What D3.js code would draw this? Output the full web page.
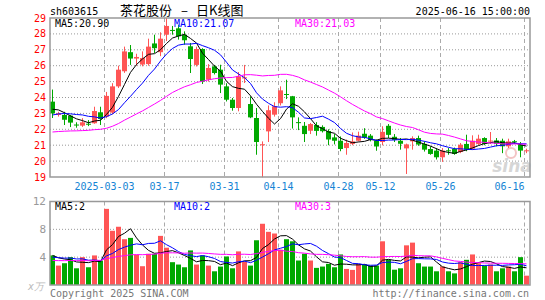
<!DOCTYPE html>
<html>
<head>
<meta charset="utf-8">
<script src="https://cdn.jsdelivr.net/npm/d3@7"></script>
<style>
body { margin: 0; background: #fff; }
svg text { font-family: 'DejaVu Sans Mono', monospace; font-size: 10px; }
</style>
</head>
<body>
<div id="chart"></div>
<script>
// trading days shown (2025)
const days = ['02-18','02-19','02-20','02-21','02-24','02-25','02-26','02-27','02-28',
  '03-03','03-04','03-05','03-06','03-07','03-10','03-11','03-12','03-13','03-14',
  '03-17','03-18','03-19','03-20','03-21','03-24','03-25','03-26','03-27','03-28','03-31',
  '04-01','04-02','04-03','04-07','04-08','04-09','04-10','04-11','04-14','04-15','04-16',
  '04-17','04-18','04-21','04-22','04-23','04-24','04-25','04-28','04-29','04-30',
  '05-06','05-07','05-08','05-09','05-12','05-13','05-14','05-15','05-16','05-19','05-20',
  '05-21','05-22','05-23','05-26','05-27','05-28','05-29','05-30',
  '06-03','06-04','06-05','06-06','06-09','06-10','06-11','06-12','06-13','06-16'];

const open = [23.74,22.9,22.9,22.86,22.3,22.23,22.35,22.38,23.07,22.8,
  23.05,24.7,25.65,26.85,26.45,26.07,26.1,27.4,26.85,27.95,
  28.25,28.35,27.95,27.22,26.05,27.05,25.12,25.96,25.75,24.7,
  23.86,23.34,25.2,23.59,22.71,21.0,21.87,22.92,23.64,24.22,
  24.08,22.45,22.22,21.91,22.27,22.15,21.89,21.49,21.28,20.82,
  21.08,21.28,21.72,21.6,21.28,21.2,22.22,21.53,21.28,20.8,
  21.24,21.45,21.08,20.76,20.66,20.24,20.68,20.76,20.57,21.08,
  20.78,21.08,21.45,21.26,21.3,21.28,20.93,21.25,21.03,20.62];
const high = [24.5,23.1,23.1,22.9,22.44,22.7,22.58,23.42,23.42,24.35,
  24.9,26.0,27.2,27.3,26.75,26.9,27.7,27.95,28.1,29.0,
  28.5,28.58,28.16,27.43,27.2,27.1,26.1,26.05,26.06,24.9,
  23.97,25.6,26.05,24.07,23.34,21.24,23.5,23.7,24.7,25.12,
  24.1,22.75,22.46,22.4,22.45,22.25,22.0,21.7,21.55,21.35,
  21.8,21.85,22.07,21.7,21.36,22.19,22.33,21.7,21.45,21.1,
  21.56,21.6,21.24,20.93,20.82,20.82,20.82,20.85,21.14,21.66,
  21.62,21.66,21.5,21.83,21.45,21.41,21.41,21.33,21.2,20.78];
const low = [22.71,22.8,22.27,22.14,22.1,22.15,22.2,22.35,22.27,22.7,
  22.95,24.6,25.55,26.05,26.0,25.96,26.0,26.8,26.6,27.55,
  27.95,27.64,27.32,25.54,25.95,24.85,25.0,25.45,24.28,23.75,
  23.17,23.13,24.91,22.7,20.4,18.98,21.2,22.8,23.5,23.9,
  22.05,21.95,21.2,21.7,21.6,21.8,21.0,21.05,20.62,20.4,
  21.0,21.24,21.4,21.24,20.65,20.99,21.45,21.2,20.72,19.19,
  20.72,20.96,20.6,20.4,20.1,19.95,20.4,20.4,20.5,20.62,
  20.72,21.0,21.0,21.08,20.93,20.5,20.82,21.07,20.24,20.5];
const close = [23.0,23.0,22.6,22.42,22.27,22.44,22.33,23.15,22.65,24.1,
  24.7,25.75,26.9,26.45,26.55,26.48,27.2,27.1,27.7,28.5,
  28.2,27.85,27.6,26.42,27.05,25.0,25.86,25.54,24.81,23.86,
  23.34,25.33,25.27,22.75,21.2,21.06,23.2,23.45,24.45,24.18,
  22.75,22.4,21.7,22.33,21.9,21.88,21.36,21.28,20.76,21.14,
  21.24,21.6,21.47,21.33,20.92,21.84,21.65,21.33,21.09,21.05,
  21.45,21.04,20.72,20.45,20.24,20.66,20.65,20.45,21.03,20.72,
  21.28,21.41,21.08,21.29,21.08,20.93,21.24,21.22,20.66,20.68];
// volume, 万手
const volume = [4.25,2.79,3.13,4.0,2.4,4.0,2.55,4.25,3.52,10.94,
  7.79,8.37,6.58,6.77,4.34,2.7,4.49,4.49,7.06,5.36,
  3.28,2.94,2.55,4.97,2.94,4.25,2.79,1.97,2.65,4.1,
  2.4,4.83,3.37,2.79,6.43,8.8,7.64,7.4,5.07,6.58,
  6.28,3.52,4.49,3.52,2.46,2.65,3.04,2.55,4.39,2.31,
  2.17,3.04,2.94,2.79,2.79,6.28,3.62,2.2,2.4,5.7,
  6.09,3.13,2.65,2.65,1.97,2.65,1.97,1.67,3.28,3.62,
  4.39,3.13,2.79,2.94,1.97,2.4,2.65,1.97,4.0,1.34];

// closes / volumes before the window, only used to start the moving averages
const histClose = [22.1,22.0,21.9,22.1,22.0,21.8,21.9,22.0,22.1,
  20.9,20.6,20.5,20.7,20.6,20.8,20.7,20.6,20.9,20.8,20.9,
  22.3,22.4,22.6,22.7,22.7,23.2,23.5,23.4,23.2];
const histVol = [3.2,3.4,3.1,3.3,3.5,3.2,3.0,3.4,3.3,3.2,3.5,3.3,3.1,3.4,3.2,3.3,3.4,3.2,3.3,3.3,
  3.5,3.8,3.9,3.7,3.85,4.5,4.0,4.5,4.0];

const tickDays = ['03-03','03-17','03-31','04-14','04-28','05-12','05-26','06-16'];
const tickLabels = ['2025-03-03','03-17','03-31','04-14','04-28','05-12','05-26','06-16'];
const priceTicks = [19,20,21,22,23,24,25,26,27,28,29];
const volTicks = [4,8,12];
const priceLegend = ['MA5:20.90','MA10:21.07','MA30:21.03'];
const volLegend = ['MA5:2','MA10:2','MA30:3'];
const titleParts = ['茶花股份', '–', '日K线图'];

const width = 545, height = 300;
const frame = { left: 50, right: 530, top: 18, bottom: 177 };
const vframe = { top: 201.5, bottom: 285 };
const RED = '#ff5555', GREEN = '#00a800';
const maColors = ['#000', '#0000ff', '#ff00ff'];

const svg = d3.select('#chart').
append('svg').
attr('width', width).
attr('height', height);

const x = d3.scaleBand().
domain(d3.range(days.length)).
range([frame.left, frame.right]);
const y = d3.scaleLinear().domain([19, 29]).range([frame.bottom, frame.top]);
const yv = d3.scaleLinear().domain([0, 12]).range([vframe.bottom, vframe.top]);

const movingAvg = (series, hist, n) => {
  const all = hist.concat(series);
  return series.map((d, i) => d3.mean(all.slice(hist.length + i - n + 1, hist.length + i + 1)));
};

const up = i => close[i] >= open[i];
const cx = i => x(i) + 2.5;

// horizontal dotted grid
svg.selectAll('.pgrid').
data(priceTicks.slice(1, -1)).
enter().
append('line').
attr('x1', frame.left).attr('x2', frame.right).
attr('y1', d => y(d)).attr('y2', d => y(d)).
attr('stroke', '#999').
attr('stroke-dasharray', '1,2');

svg.selectAll('.vgrid').
data(volTicks.slice(0, -1)).
enter().
append('line').
attr('x1', frame.left).attr('x2', frame.right).
attr('y1', d => yv(d)).attr('y2', d => yv(d)).
attr('stroke', '#999').
attr('stroke-dasharray', '1,2');

// vertical dashed lines at date ticks
const tickIdx = tickDays.map(d => days.indexOf(d));
[[frame.top, frame.bottom], [vframe.top, vframe.bottom]].forEach(([t, b]) => {
  svg.selectAll(null).
  data(tickIdx).
  enter().
  append('line').
  attr('x1', d => x(d) + 0.5).attr('x2', d => x(d) + 0.5).
  attr('y1', t).attr('y2', b).
  attr('stroke', '#aaa').
  attr('stroke-dasharray', '4,3');
});

// sina watermark
svg.append('circle').
attr('cx', 511).attr('cy', 153).attr('r', 5).
attr('fill', 'none').attr('stroke', '#f3c4c4').attr('stroke-width', 2);
svg.append('text').
attr('x', 512).attr('y', 172).
attr('text-anchor', 'middle').
style('font-family', 'DejaVu Sans').
style('font-size', '17px').
style('font-style', 'italic').
style('font-weight', 'bold').
attr('fill', '#d6d6d6').
text('sina');

// candles
const candle = svg.selectAll('.candle').
data(d3.range(days.length)).
enter().
append('g');

candle.append('line').
attr('x1', cx).attr('x2', cx).
attr('y1', i => y(high[i])).attr('y2', i => y(low[i])).
attr('stroke', i => up(i) ? RED : GREEN);

candle.append('rect').
attr('x', i => x(i)).
attr('width', 5).
attr('y', i => y(Math.max(open[i], close[i]))).
attr('height', i => Math.max(1, Math.abs(y(open[i]) - y(close[i])))).
attr('fill', i => up(i) ? RED : GREEN);

// volume bars
svg.selectAll('.vol').
data(d3.range(days.length)).
enter().
append('rect').
attr('x', i => x(i)).
attr('width', 5).
attr('y', i => yv(volume[i])).
attr('height', i => yv(0) - yv(volume[i])).
attr('fill', i => up(i) ? RED : GREEN);

// moving averages
const line = scale => d3.line().x((d, i) => cx(i)).y(d => scale(d));
[5, 10, 30].forEach((n, k) => {
  svg.append('path').
  attr('d', line(y)(movingAvg(close, histClose, n))).
  attr('fill', 'none').
  attr('stroke', maColors[k]);
  svg.append('path').
  attr('d', line(yv)(movingAvg(volume, histVol, n))).
  attr('fill', 'none').
  attr('stroke', maColors[k]);
});

// frames
svg.append('rect').
attr('x', frame.left).attr('y', frame.top).
attr('width', frame.right - frame.left).attr('height', frame.bottom - frame.top).
attr('fill', 'none').attr('stroke', '#999').attr('stroke-width', 1.5);
svg.append('rect').
attr('x', frame.left).attr('y', vframe.top).
attr('width', frame.right - frame.left).attr('height', vframe.bottom - vframe.top).
attr('fill', 'none').attr('stroke', '#999').attr('stroke-width', 1.5);

// axes labels
svg.selectAll('.plabel').
data(priceTicks).
enter().
append('text').
attr('x', 46).attr('y', d => y(d)).
attr('dy', '0.35em').
attr('text-anchor', 'end').
attr('fill', '#f00').
text(d => d);

svg.selectAll('.vlabel').
data(volTicks).
enter().
append('text').
attr('x', 46).attr('y', d => yv(d)).
attr('dy', '0.35em').
attr('text-anchor', 'end').
attr('fill', '#999').
style('font-size', '11px').
text(d => d);

svg.selectAll('.xlabel').
data(tickIdx).
enter().
append('text').
attr('x', d => x(d) + 0.5).
attr('y', 190).
attr('text-anchor', (d, i) => x(d) + tickLabels[i].length * 3 > frame.right ? 'end' : 'middle').
attr('fill', '#1584d4').
text((d, i) => tickLabels[i]);

// legends
const legendX = [55, 174, 295];
priceLegend.forEach((t, k) => {
  svg.append('text').attr('x', legendX[k]).attr('y', 27).attr('fill', maColors[k]).text(t);
});
volLegend.forEach((t, k) => {
  svg.append('text').attr('x', legendX[k]).attr('y', 210).attr('fill', maColors[k]).text(t);
});

// header / footer
svg.append('text').attr('x', 50).attr('y', 15).text('sh603615');
const titleX = [120, 181, 196];
titleParts.forEach((t, k) => {
  svg.append('text').
  attr('x', titleX[k]).attr('y', 15).
  style('font-family', "'Noto Sans CJK SC'").
  style('font-size', '13px').
  text(t);
});
svg.append('text').attr('x', 530).attr('y', 15).attr('text-anchor', 'end').text('2025-06-16 15:00:00');
svg.append('text').
attr('x', 44).attr('y', 290).
attr('text-anchor', 'end').
attr('fill', '#bbb').
style('font-style', 'italic').
text('x万');
svg.append('text').attr('x', 50).attr('y', 297).attr('fill', '#777').text('Copyright 2025 SINA.COM');
svg.append('text').attr('x', 529).attr('y', 297).attr('text-anchor', 'end').attr('fill', '#777').text('http://finance.sina.com.cn');
</script>
</body>
</html>
